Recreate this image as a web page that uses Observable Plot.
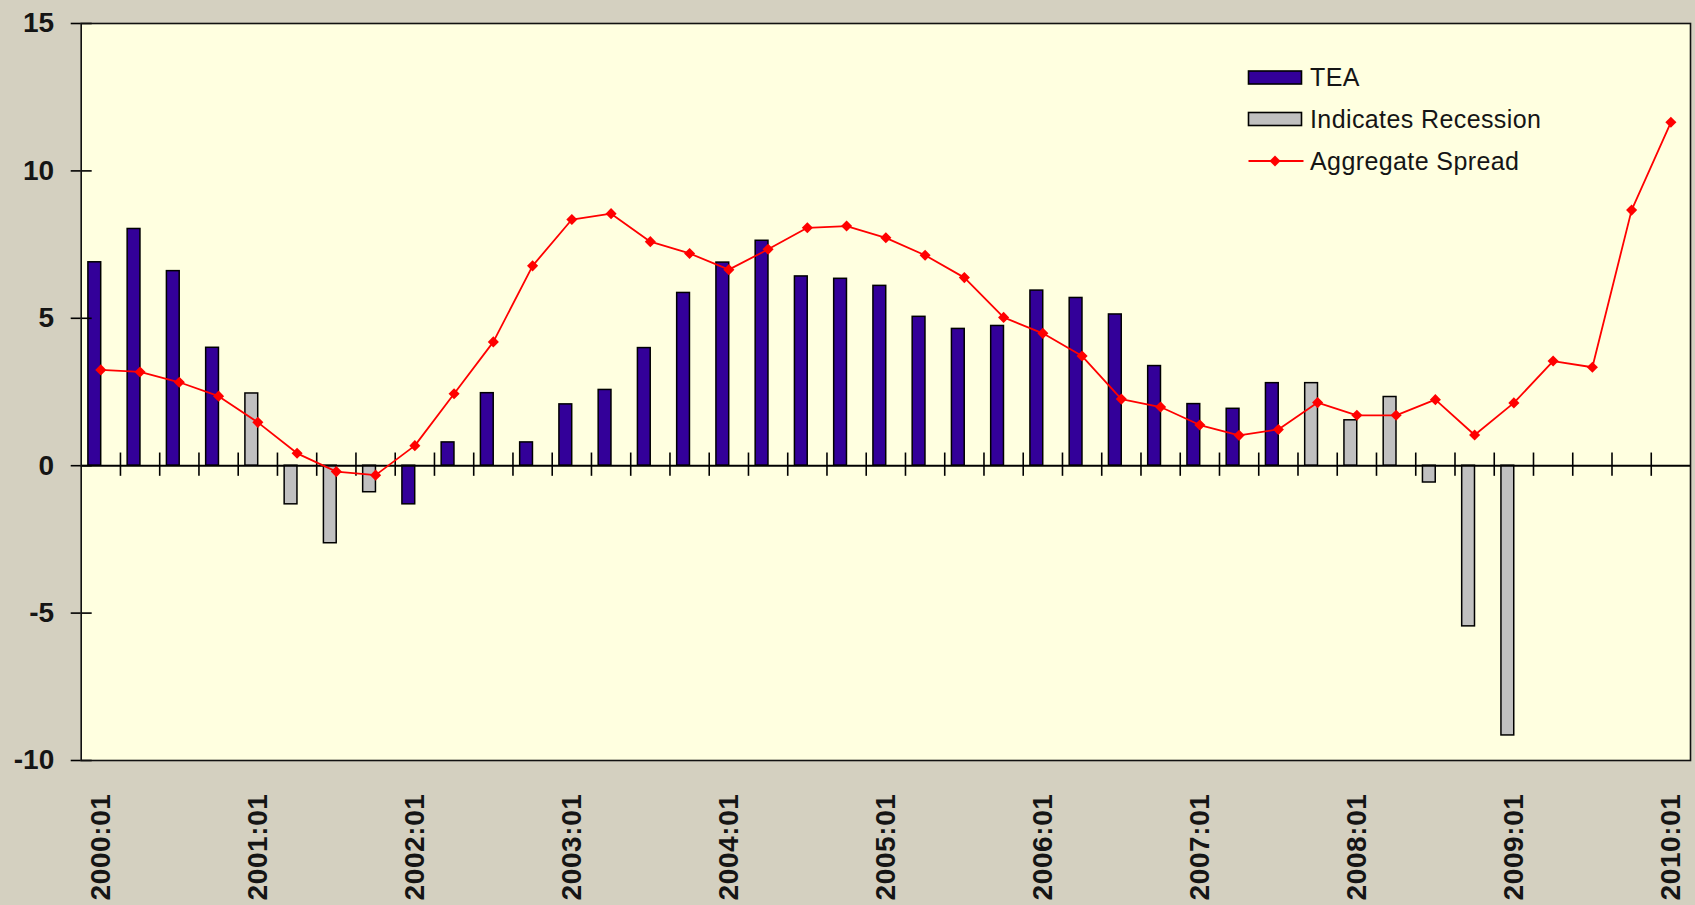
<!DOCTYPE html>
<html><head><meta charset="utf-8">
<script src="https://cdn.jsdelivr.net/npm/d3@7"></script>
<script src="https://cdn.jsdelivr.net/npm/@observablehq/plot@0.6"></script>
<style>html,body{margin:0;padding:0;background:#d4d0c0;overflow:hidden}</style>
</head><body><div id="chart"></div>
<script>
const quarters = [
  "2000:01","2000:02","2000:03","2000:04",
  "2001:01","2001:02","2001:03","2001:04",
  "2002:01","2002:02","2002:03","2002:04",
  "2003:01","2003:02","2003:03","2003:04",
  "2004:01","2004:02","2004:03","2004:04",
  "2005:01","2005:02","2005:03","2005:04",
  "2006:01","2006:02","2006:03","2006:04",
  "2007:01","2007:02","2007:03","2007:04",
  "2008:01","2008:02","2008:03","2008:04",
  "2009:01","2009:02","2009:03","2009:04",
  "2010:01"
];
const tea = [
  6.9, 8.03, 6.6, 4.0,
  null, null, null, null,
  -1.31, 0.79, 2.46, 0.79,
  2.08, 2.57, 3.99, 5.86,
  6.89, 7.63, 6.42, 6.34,
  6.1, 5.05, 4.64, 4.74,
  5.94, 5.69, 5.13, 3.38,
  2.09, 1.93, 2.8, null,
  null, null, null, null,
  null, null, null, null,
  null
];
const recession = [
  null, null, null, null,
  2.45, -1.31, -2.63, -0.9,
  null, null, null, null,
  null, null, null, null,
  null, null, null, null,
  null, null, null, null,
  null, null, null, null,
  null, null, null, 2.8,
  1.54, 2.33, -0.57, -5.45,
  -9.15, null, null, null,
  null
];
const spread = [
  3.25, 3.18, 2.83, 2.36,
  1.47, 0.42, -0.2, -0.32,
  0.68, 2.44, 4.2, 6.78,
  8.35, 8.55, 7.6, 7.2,
  6.65, 7.34, 8.07, 8.13,
  7.73, 7.14, 6.38, 5.03,
  4.49, 3.72, 2.26, 1.99,
  1.38, 1.03, 1.23, 2.14,
  1.71, 1.71, 2.24, 1.04,
  2.13, 3.55, 3.34, 8.67,
  11.65
];
const yTicks = [-10, -5, 0, 5, 10, 15];
const xLabels = ["2000:01","2001:01","2002:01","2003:01","2004:01","2005:01","2006:01","2007:01","2008:01","2009:01","2010:01"];
const seriesNames = ["TEA", "Indicates Recession", "Aggregate Spread"];
const colors = {tea: "#330099", recession: "#c0c0c0", spread: "#ff0000", plotBg: "#ffffe0", outerBg: "#d4d0c0"};

const W = 1695, H = 905, ML = 80.7, MR = 5, MT = 23, MB = 145;
const bw = (W - ML - MR) / quarters.length;

const rows = quarters.map((q, i) => ({q, tea: tea[i], recession: recession[i], spread: spread[i]}));
const teaRows = rows.filter(d => d.tea != null);
const recRows = rows.filter(d => d.recession != null);

const barOpts = {x: "q", insetLeft: 7.2, insetRight: bw - 20, stroke: "#000", strokeWidth: 1.5};

const chart = Plot.plot({
  width: W, height: H,
  marginLeft: ML, marginRight: MR, marginTop: MT, marginBottom: MB,
  style: {background: colors.outerBg, fontFamily: "'Liberation Sans', Arial, sans-serif", overflow: "visible"},
  x: {type: "band", domain: quarters, padding: 0, round: false, axis: null},
  y: {domain: [-10, 15], axis: null},
  marks: [
    Plot.frame({fill: colors.plotBg}),
    Plot.barY(teaRows, {...barOpts, y: "tea", fill: colors.tea}),
    Plot.barY(recRows, {...barOpts, y: "recession", fill: colors.recession}),
    Plot.ruleY([0], {stroke: "#000", strokeWidth: 2}),
    Plot.ruleX(quarters.slice(0, quarters.length - 1), {x: d => d, y1: -0.36, y2: 0.43, dx: bw / 2, stroke: "#000", strokeWidth: 1.6}),
    Plot.tickY(yTicks, {x: () => quarters[0], y: d => d, insetRight: bw - 11, stroke: "#000", strokeWidth: 1.6}),
    Plot.axisY({ticks: yTicks, tickSize: 10, tickPadding: 17, tickFormat: d => String(d), fontSize: 28, fontWeight: "bold", fill: "#151515", stroke: "#000", strokeWidth: 1.6, label: null}),
    Plot.lineY(rows, {x: "q", y: "spread", stroke: colors.spread, strokeWidth: 1.8}),
    Plot.dot(rows, {x: "q", y: "spread", symbol: "diamond2", r: 5, fill: colors.spread, stroke: "none"}),
    Plot.text(xLabels, {x: d => d, frameAnchor: "bottom", dy: 33, rotate: -90, textAnchor: "end", lineAnchor: "middle", fontSize: 28, fontWeight: "bold", fill: "#151515", text: d => d}),
    Plot.frame({stroke: "#111", strokeWidth: 1.6})
  ]
});

// letter spacing for category labels
d3.select(chart).selectAll("text").filter(function() { return xLabels.includes(this.textContent); }).style("letter-spacing", "0.6px");

// legend
const svg = d3.select(chart);
const lg = svg.append("g").attr("font-family", "'Liberation Sans', Arial, sans-serif").attr("font-size", 25).attr("fill", "#151515").attr("text-anchor", "start");
const lx = 1248.5, sw = 53, tx = 1310, rowsY = [77.5, 119, 161];
lg.append("rect").attr("x", lx).attr("y", rowsY[0] - 6.5).attr("width", sw).attr("height", 13).attr("fill", colors.tea).attr("stroke", "#000").attr("stroke-width", 1.6);
lg.append("rect").attr("x", lx).attr("y", rowsY[1] - 6.5).attr("width", sw).attr("height", 13).attr("fill", colors.recession).attr("stroke", "#000").attr("stroke-width", 1.6);
lg.append("line").attr("x1", lx).attr("x2", lx + sw + 2).attr("y1", rowsY[2]).attr("y2", rowsY[2]).attr("stroke", colors.spread).attr("stroke-width", 1.8);
lg.append("path").attr("d", d3.symbol(d3.symbolDiamond2, 5 * 5 * Math.PI)()).attr("transform", `translate(${lx + sw / 2},${rowsY[2]})`).attr("fill", colors.spread);
seriesNames.forEach((n, i) => {
  lg.append("text").attr("x", tx).attr("y", rowsY[i]).attr("dy", "0.35em").attr("text-anchor", "start").style("letter-spacing", "0.4px").text(n);
});

document.getElementById("chart").appendChild(chart);
</script>
</body></html>
